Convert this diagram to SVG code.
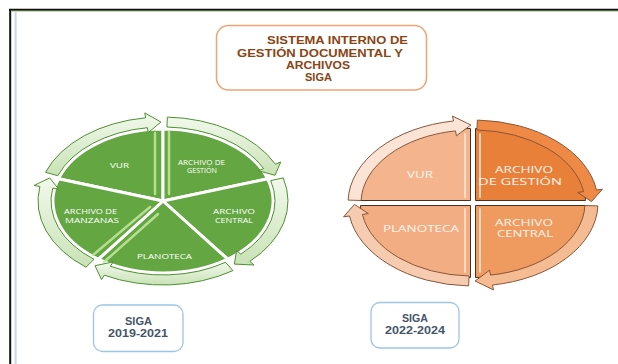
<svg xmlns="http://www.w3.org/2000/svg" width="618" height="364" viewBox="0 0 618 364">
<style>
.tt{font-family:"Liberation Sans","Open Sans",sans-serif;font-weight:bold;font-size:10px;fill:#8a4515}
.gt{font-family:"Open Sans","Liberation Sans",sans-serif;font-size:7px;fill:#ffffff}
.ot{font-family:"Open Sans","Liberation Sans",sans-serif;font-size:9.5px;fill:#fff4ec}
.lt{font-family:"Liberation Sans","Open Sans",sans-serif;font-weight:bold;font-size:10px;fill:#44546a}
.gw{fill:#64a742;stroke:#ffffff;stroke-width:3;stroke-linejoin:round}
.gr{fill:url(#gring);stroke:#4f8f33;stroke-width:1;stroke-linejoin:round}
.ow{stroke:#4a3020;stroke-width:1}
.or{stroke:#8a5638;stroke-width:1;stroke-linejoin:round}
.hl{stroke:#c4e89c;stroke-width:2.5;stroke-linecap:round;opacity:0.85}
.oh{stroke:#fde6d6;stroke-width:2;stroke-linecap:round;opacity:0.8}
</style>
<defs>
<linearGradient id="gring" x1="0" y1="0" x2="0" y2="1">
<stop offset="0" stop-color="#f2f9ec"/>
<stop offset="1" stop-color="#c9e2b6"/>
</linearGradient>
</defs>
<rect width="618" height="364" fill="#ffffff"/>
<g id="frame">
<line x1="10.2" y1="9" x2="10.2" y2="364" stroke="#111" stroke-width="2"/>
<line x1="9" y1="9.8" x2="618" y2="9.8" stroke="#111" stroke-width="2"/>
<line x1="11" y1="11.4" x2="618" y2="11.4" stroke="#b9dca0" stroke-width="1"/>
<line x1="15.6" y1="12" x2="15.6" y2="364" stroke="#c8d6e6" stroke-width="2"/>
</g>
<g id="title">
<rect x="216.5" y="25.5" width="210" height="64.5" rx="12" fill="#ffffff" stroke="#f0a472" stroke-width="1.5"/>
<text class="tt" x="267" y="44" textLength="141" lengthAdjust="spacingAndGlyphs">SISTEMA INTERNO DE</text>
<text class="tt" x="237" y="56.5" textLength="166" lengthAdjust="spacingAndGlyphs">GESTIÓN DOCUMENTAL Y</text>
<text class="tt" x="286" y="68.5" textLength="64" lengthAdjust="spacingAndGlyphs">ARCHIVOS</text>
<text class="tt" x="305" y="81" textLength="27" lengthAdjust="spacingAndGlyphs">SIGA</text>
</g>
<g id="green-vur">
<path class="gw" d="M163 201 L58.4 178.8 A110 72 0 0 1 163 129 Z"/>
<line class="hl" x1="155" y1="133" x2="155" y2="194"/>
<text class="gt" x="110" y="168" textLength="19" lengthAdjust="spacingAndGlyphs">VUR</text>
</g>
<g id="green-gestion">
<path class="gw" d="M163 201 L163 129 A110 72 0 0 1 267.6 178.8 Z"/>
<line class="hl" x1="169" y1="132" x2="169" y2="194"/>
<text class="gt" x="178" y="164.5" textLength="47" lengthAdjust="spacingAndGlyphs">ARCHIVO DE</text>
<text class="gt" x="187" y="173" textLength="30" lengthAdjust="spacingAndGlyphs">GESTIÓN</text>
</g>
<g id="green-central">
<path class="gw" d="M163 201 L267.6 178.8 A110 72 0 0 1 227.7 259.2 Z"/>
<text class="gt" x="213" y="214" textLength="42" lengthAdjust="spacingAndGlyphs">ARCHIVO</text>
<text class="gt" x="215" y="223" textLength="38" lengthAdjust="spacingAndGlyphs">CENTRAL</text>
</g>
<g id="green-planoteca">
<path class="gw" d="M163 201 L227.7 259.2 A110 72 0 0 1 98.3 259.2 Z"/>
<line class="hl" x1="104" y1="262" x2="158" y2="214"/>
<text class="gt" x="137" y="259" textLength="55" lengthAdjust="spacingAndGlyphs">PLANOTECA</text>
</g>
<g id="green-manzanas">
<path class="gw" d="M163 201 L98.3 259.2 A110 72 0 0 1 58.4 178.8 Z"/>
<line class="hl" x1="93" y1="255" x2="150" y2="207"/>
<text class="gt" x="64" y="214" textLength="53" lengthAdjust="spacingAndGlyphs">ARCHIVO DE</text>
<text class="gt" x="65" y="223" textLength="54" lengthAdjust="spacingAndGlyphs">MANZANAS</text>
</g>
<g id="orange-vur">
<path class="ow" fill="#f4b58e" d="M470.5 200.5 L360.5 200.5 A110 72 0 0 1 470.5 128.5 Z"/>
<line class="oh" x1="465" y1="134" x2="465" y2="197"/>
<text class="ot" x="407" y="178" textLength="26" lengthAdjust="spacingAndGlyphs" fill="#fbe2d2">VUR</text>
</g>
<g id="orange-gestion">
<path class="ow" fill="#e9803a" d="M475.5 200.5 L475.5 128.5 A110 72 0 0 1 585.5 200.5 Z"/>
<line class="oh" x1="480" y1="134" x2="480" y2="197"/>
<text class="ot" x="495" y="172.5" textLength="58" lengthAdjust="spacingAndGlyphs">ARCHIVO</text>
<text class="ot" x="478" y="185" textLength="84" lengthAdjust="spacingAndGlyphs">DE GESTIÓN</text>
</g>
<g id="orange-central">
<path class="ow" fill="#ef9b60" d="M475.5 205.5 L585.5 205.5 A110 72 0 0 1 475.5 277.5 Z"/>
<line class="oh" x1="480" y1="209" x2="480" y2="272"/>
<text class="ot" x="495" y="225.5" textLength="58" lengthAdjust="spacingAndGlyphs">ARCHIVO</text>
<text class="ot" x="497" y="237" textLength="56" lengthAdjust="spacingAndGlyphs">CENTRAL</text>
</g>
<g id="orange-planoteca">
<path class="ow" fill="#f3ad82" d="M470.5 205.5 L470.5 277.5 A110 72 0 0 1 360.5 205.5 Z"/>
<line class="oh" x1="465" y1="209" x2="465" y2="272"/>
<text class="ot" x="383" y="231.7" textLength="76" lengthAdjust="spacingAndGlyphs" fill="#fbe2d2">PLANOTECA</text>
</g>
<g id="connectors">
<path class="gr" d="M45.5 172.3 A125 84 0 0 1 145.6 117.8 L144.8 112.9 L160.9 122 L148.2 132.7 L147.4 127.7 A112 74 0 0 0 57.8 175.7 Z"/>
<path class="gr" d="M167.4 117.1 A125 84 0 0 1 275.4 164.2 L280.7 162 L275 175.3 L258.3 170.7 L263.7 168.6 A112 74 0 0 0 166.9 127 Z"/>
<path class="gr" d="M283.2 177.9 A125 84 0 0 1 249.8 261.4 L254 265 L234.3 264.1 L236.6 250.6 L240.8 254.2 A112 74 0 0 0 270.7 180.6 Z"/>
<path class="gr" d="M232.9 270.6 A125 84 0 0 1 104.3 275.2 L101.5 279.6 L95 265.7 L113.2 261.9 L110.4 266.3 A112 74 0 0 0 225.6 262.3 Z"/>
<path class="gr" d="M86 267.2 A125 84 0 0 1 39.9 186.4 L34 185.5 L49.7 177.9 L58.6 189 L52.7 188.2 A112 74 0 0 0 94 259.3 Z"/>
<path class="or" fill="#fbe4d6" d="M348.1 200.1 A125 83 0 0 1 453.45 121 L452.5 116.1 L470.9 125 L456.4 135.8 L455.5 130.9 A112 73 0 0 0 361.1 200.5 Z"/>
<path class="or" fill="#ee8a45" d="M477.4 120.05 A125 83 0 0 1 596.5 190 L602.4 189.2 L591.5 201.6 L577.7 192.4 L583.6 191.6 A112 73 0 0 0 476.9 130 Z"/>
<path class="or" fill="#f5bb92" d="M597.9 205.9 A125 83 0 0 1 492.55 285 L493.5 289.9 L475.1 281 L489.6 270.2 L490.5 275.1 A112 73 0 0 0 584.9 205.5 Z"/>
<path class="or" fill="#f7cbb0" d="M468.6 285.95 A125 83 0 0 1 349.5 216 L343.6 216.8 L354.5 204.4 L368.3 213.6 L362.4 214.4 A112 73 0 0 0 469.1 276 Z"/>
</g>
<g id="label-2019">
<rect x="93.5" y="305" width="89.5" height="46.5" rx="9" fill="#ffffff" stroke="#9dc3e6" stroke-width="1.3"/>
<text class="lt" x="125" y="325" textLength="27" lengthAdjust="spacingAndGlyphs">SIGA</text>
<text class="lt" x="108" y="337" textLength="60" lengthAdjust="spacingAndGlyphs">2019-2021</text>
</g>
<g id="label-2022">
<rect x="371" y="302.5" width="88" height="45.5" rx="9" fill="#ffffff" stroke="#9dc3e6" stroke-width="1.3"/>
<text class="lt" x="402" y="322" textLength="26" lengthAdjust="spacingAndGlyphs">SIGA</text>
<text class="lt" x="385" y="334" textLength="60" lengthAdjust="spacingAndGlyphs">2022-2024</text>
</g>
</svg>
